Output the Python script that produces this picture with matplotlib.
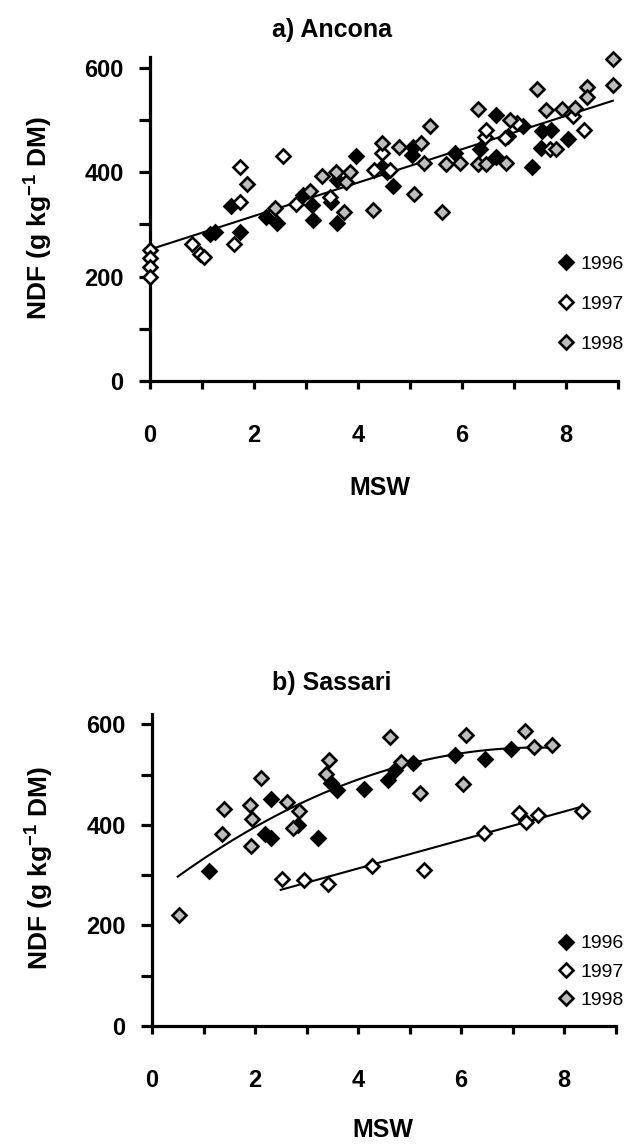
import numpy as np
import matplotlib
matplotlib.use("Agg")
import matplotlib.pyplot as plt
from matplotlib.ticker import MultipleLocator, NullFormatter

plt.rcParams['font.family'] = ['Liberation Sans', 'DejaVu Sans']
plt.rcParams['mathtext.fontset'] = 'custom'
plt.rcParams['mathtext.rm'] = 'Liberation Sans'
plt.rcParams['mathtext.bf'] = 'Liberation Sans:bold'

# ---------------- data ----------------
years = ['1996', '1997', '1998']

# a) Ancona
ancona_1996_msw = [1.15, 1.25, 1.55, 1.73, 2.24, 2.45, 2.95, 3.11, 3.14, 3.48, 3.59, 3.59, 3.96,
                   4.46, 4.55, 4.67, 5.03, 5.06, 5.87, 6.35, 6.65, 6.65, 6.88, 7.18, 7.34, 7.52,
                   7.53, 7.72, 8.03]
ancona_1996_ndf = [281, 286, 335, 286, 315, 303, 357, 337, 309, 342, 385, 302, 431,
                   410, 400, 374, 433, 449, 436, 444, 429, 509, 470, 489, 409, 447,
                   478, 480, 463]
ancona_1997_msw = [0, 0, 0, 0, 0.80, 0.96, 1.04, 1.62, 1.73, 1.73, 2.56, 2.81, 3.46, 4.30, 4.46,
                   4.62, 6.44, 6.46, 6.83, 7.05, 7.69, 8.14, 8.35]
ancona_1997_ndf = [251, 235, 219, 200, 262, 243, 237, 263, 343, 410, 431, 339, 353, 404, 436,
                   404, 467, 480, 465, 495, 444, 508, 480]
ancona_1998_msw = [1.87, 2.40, 3.08, 3.30, 3.58, 3.73, 3.77, 3.85, 4.29, 4.46, 4.78, 5.08, 5.22,
                   5.26, 5.38, 5.61, 5.69, 5.96, 6.30, 6.31, 6.46, 6.85, 6.92, 7.45, 7.61, 7.81,
                   7.92, 8.17, 8.41, 8.41, 8.91, 8.91]
ancona_1998_ndf = [377, 331, 363, 393, 401, 323, 382, 401, 328, 455, 448, 358, 455,
                   418, 489, 323, 416, 418, 521, 416, 416, 418, 500, 559, 519, 444,
                   521, 523, 564, 544, 616, 567]
# linear fit, all years
ancona_fit_coef = [252.0, 32.0]          # intercept, slope
ancona_fit_range = [0.0, 8.9]

# b) Sassari
sassari_1996_msw = [1.10, 2.19, 2.31, 2.32, 2.83, 3.22, 3.48, 3.60, 4.11, 4.59, 4.71, 5.06, 5.89,
                    6.47, 6.98]
sassari_1996_ndf = [309, 381, 451, 374, 399, 374, 484, 470, 472, 490, 509, 522, 538, 530, 550]
sassari_1997_msw = [2.52, 2.95, 3.42, 4.27, 5.28, 6.45, 7.12, 7.26, 7.49, 8.35]
sassari_1997_ndf = [293, 291, 282, 318, 311, 383, 424, 406, 420, 427]
sassari_1998_msw = [0.52, 1.36, 1.40, 1.91, 1.92, 1.95, 2.11, 2.62, 2.74, 2.85, 3.38, 3.44, 4.63,
                    4.83, 5.21, 6.03, 6.10, 7.24, 7.41, 7.77]
sassari_1998_ndf = [221, 382, 431, 439, 357, 411, 494, 446, 394, 427, 502, 529, 575,
                    524, 463, 482, 579, 587, 554, 559]
# quadratic fit (1996 + 1998) and linear fit (1997)
sassari_fit_upper_coef = [258.9, 78.9, -5.28]
sassari_fit_upper_range = [0.5, 7.8]
sassari_fit_lower_coef = [200.0, 28.3]
sassari_fit_lower_range = [2.5, 8.35]

# ---------------- layout ----------------
W, H = 630, 1145
fig = plt.figure(figsize=(W / 100, H / 100), dpi=100)


def fx(px):
    return px / W


def fy(py):
    return 1 - py / H


styles = {
    '1996': dict(marker='D', mfc='black', mec='black'),
    '1997': dict(marker='D', mfc='white', mec='black'),
    '1998': dict(marker='D', mfc='#bdbdbd', mec='black'),
}


def setup_axes(ax):
    for s in ['top', 'right']:
        ax.spines[s].set_visible(False)
    for s in ['left', 'bottom']:
        ax.spines[s].set_linewidth(2.3)
    ax.set_xlim(0, 9)
    ax.set_ylim(0, 620)
    ax.xaxis.set_major_locator(MultipleLocator(2))
    ax.xaxis.set_minor_locator(MultipleLocator(1))
    ax.yaxis.set_major_locator(MultipleLocator(200))
    ax.yaxis.set_minor_locator(MultipleLocator(100))
    ax.xaxis.set_minor_formatter(NullFormatter())
    ax.yaxis.set_minor_formatter(NullFormatter())
    ax.tick_params(axis='x', which='both', direction='out', length=6, width=2.3, pad=25,
                   labelsize=17)
    ax.tick_params(axis='y', which='both', direction='out', length=8, width=2.3, pad=11,
                   labelsize=17)


def bold_ticks(ax):
    for lab in ax.get_xticklabels() + ax.get_yticklabels():
        lab.set_fontweight('bold')


def draw_points(ax, data):
    handles = []
    for yr, (xs, ys) in zip(years, data):
        h, = ax.plot(xs, ys, linestyle='none', ms=7, mew=1.9, clip_on=False, zorder=3,
                     label=yr, **styles[yr])
        handles.append(h)
    return handles


def add_legend(ax, handles, center_py, spacing):
    ax.legend(handles=handles, labels=years, loc='center left',
              bbox_to_anchor=(fx(558), fy(center_py)), bbox_transform=fig.transFigure,
              frameon=False, fontsize=14, handlelength=0.8, handletextpad=0.35,
              labelspacing=spacing, borderpad=0, borderaxespad=0, markerscale=1.0)


# ---- panel a ----
ax1 = fig.add_axes([fx(150), fy(381), fx(468), (381 - 57.3) / H])
setup_axes(ax1)
xa = np.linspace(ancona_fit_range[0], ancona_fit_range[1], 50)
ax1.plot(xa, ancona_fit_coef[0] + ancona_fit_coef[1] * xa, color='black', lw=1.5, zorder=2)
h1 = draw_points(ax1, [(ancona_1996_msw, ancona_1996_ndf),
                       (ancona_1997_msw, ancona_1997_ndf),
                       (ancona_1998_msw, ancona_1998_ndf)])
bold_ticks(ax1)
add_legend(ax1, h1, 304, 1.15)

fig.text(fx(332), fy(30), 'a) Ancona', ha='center', va='center', fontsize=18, fontweight='bold')
fig.text(fx(380), fy(488), 'MSW', ha='center', va='center', fontsize=18, fontweight='bold')
fig.text(fx(38), fy(218), r'NDF (g kg$^{\mathbf{-1}}$ DM)', rotation=90, ha='center',
         va='center', fontsize=19, fontweight='bold')

# ---- panel b ----
ax2 = fig.add_axes([fx(152), fy(1026), fx(463.5), (1026 - 714.2) / H])
setup_axes(ax2)
xu = np.linspace(sassari_fit_upper_range[0], sassari_fit_upper_range[1], 80)
cu = sassari_fit_upper_coef
ax2.plot(xu, cu[0] + cu[1] * xu + cu[2] * xu ** 2, color='black', lw=1.5, zorder=2)
xl = np.linspace(sassari_fit_lower_range[0], sassari_fit_lower_range[1], 50)
ax2.plot(xl, sassari_fit_lower_coef[0] + sassari_fit_lower_coef[1] * xl, color='black', lw=1.5,
         zorder=2)
h2 = draw_points(ax2, [(sassari_1996_msw, sassari_1996_ndf),
                       (sassari_1997_msw, sassari_1997_ndf),
                       (sassari_1998_msw, sassari_1998_ndf)])
bold_ticks(ax2)
add_legend(ax2, h2, 972, 0.55)

fig.text(fx(332), fy(683), 'b) Sassari', ha='center', va='center', fontsize=18, fontweight='bold')
fig.text(fx(383), fy(1130), 'MSW', ha='center', va='center', fontsize=18, fontweight='bold')
fig.text(fx(39), fy(868), r'NDF (g kg$^{\mathbf{-1}}$ DM)', rotation=90, ha='center',
         va='center', fontsize=19, fontweight='bold')

fig.savefig('out.png', dpi=100)
